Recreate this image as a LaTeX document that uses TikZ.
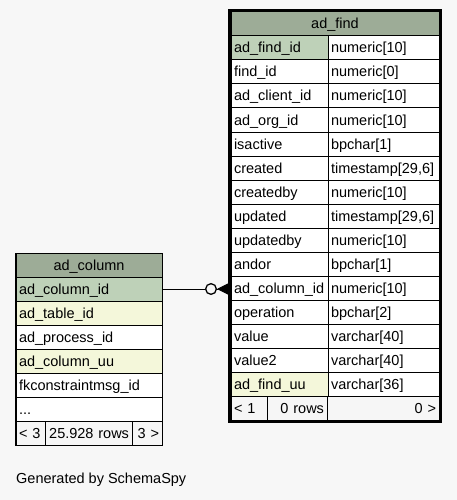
\documentclass[tikz,border=0pt]{standalone}
\usepackage{fontspec}
\setmainfont{Liberation Sans}
\definecolor{sspage}{RGB}{247,247,247}
\definecolor{sshead}{RGB}{157,172,151}
\definecolor{sspk}{RGB}{190,209,184}
\definecolor{ssidx}{RGB}{244,247,218}
\definecolor{ssfoot}{RGB}{246,246,246}
\usetikzlibrary{arrows.meta,positioning}
\newcommand{\ssfont}{\fontsize{14.5}{17}\selectfont}

\begin{document}
\begin{tikzpicture}[x=1pt,y=-1pt,
    cell/.style={draw,line width=1pt,fill=white,inner xsep=3pt,inner ysep=0pt,
                 minimum height=24pt,text height=13pt,text depth=3pt,font=\ssfont},
    namecell/.style={cell,text width=91pt,align=left},
    typecell/.style={cell,text width=105pt,align=left},
    colcell/.style={cell,text width=140pt,align=left},
    headcell/.style={cell,fill=sshead,align=center},
    footcell/.style={cell,fill=ssfoot},
    fkline/.style={line width=1pt,
        -{Circle[open,fill=sspage,length=12pt,width=12pt,line width=1.3pt,sep=0pt]Triangle[reversed,length=11pt,width=11pt]}}]
  %% page
  \fill[sspage] (0,0) rectangle (457,500);
  \useasboundingbox (0,0) rectangle (457,500);

  %% Table: ad_find
  \node[headcell,minimum width=208pt] (fhead) at (335,24) {ad\_find};
  \node[namecell,fill=sspk] (fadfindid) at (279.5,48) {ad\_find\_id};
  \node[typecell] (tadfindid) at (383.5,48) {numeric[10]};
  \node[namecell] (ffindid) at (279.5,72) {find\_id};
  \node[typecell] (tfindid) at (383.5,72) {numeric[0]};
  \node[namecell] (fclient) at (279.5,96) {ad\_client\_id};
  \node[typecell] (tclient) at (383.5,96) {numeric[10]};
  \node[namecell] (forg) at (279.5,120) {ad\_org\_id};
  \node[typecell] (torg) at (383.5,120) {numeric[10]};
  \node[namecell] (factive) at (279.5,144) {isactive};
  \node[typecell] (tactive) at (383.5,144) {bpchar[1]};
  \node[namecell] (fcreated) at (279.5,168) {created};
  \node[typecell] (tcreated) at (383.5,168) {timestamp[29,6]};
  \node[namecell] (fcreatedby) at (279.5,192) {createdby};
  \node[typecell] (tcreatedby) at (383.5,192) {numeric[10]};
  \node[namecell] (fupdated) at (279.5,216) {updated};
  \node[typecell] (tupdated) at (383.5,216) {timestamp[29,6]};
  \node[namecell] (fupdatedby) at (279.5,240) {updatedby};
  \node[typecell] (tupdatedby) at (383.5,240) {numeric[10]};
  \node[namecell] (fandor) at (279.5,264) {andor};
  \node[typecell] (tandor) at (383.5,264) {bpchar[1]};
  \node[namecell] (fcolumn) at (279.5,288) {ad\_column\_id};
  \node[typecell] (tcolumn) at (383.5,288) {numeric[10]};
  \node[namecell] (foperation) at (279.5,312) {operation};
  \node[typecell] (toperation) at (383.5,312) {bpchar[2]};
  \node[namecell] (fvalue) at (279.5,336) {value};
  \node[typecell] (tvalue) at (383.5,336) {varchar[40]};
  \node[namecell] (fvalue2) at (279.5,360) {value2};
  \node[typecell] (tvalue2) at (383.5,360) {varchar[40]};
  \node[namecell,fill=ssidx] (ffinduu) at (279.5,384) {ad\_find\_uu};
  \node[typecell] (tfinduu) at (383.5,384) {varchar[36]};
  \node[footcell,text width=30pt,align=left] (fparents) at (249,408) {< 1};
  \node[footcell,text width=54pt,align=right] (frows) at (297,408) {0 rows};
  \node[footcell,text width=106pt,align=right] (fchildren) at (383,408) {0 >};
  \node[draw,line width=3pt,inner sep=0pt,minimum width=211pt,minimum height=411pt]
        (findframe) at (335,216) {};

  %% Table: ad_column
  \node[headcell,minimum width=146pt] (chead) at (89,265) {ad\_column};
  \node[colcell,fill=sspk] (ccolumn) at (89,289) {ad\_column\_id};
  \node[colcell,fill=ssidx] (ctable) at (89,313) {ad\_table\_id};
  \node[colcell] (cprocess) at (89,337) {ad\_process\_id};
  \node[colcell,fill=ssidx] (ccolumnuu) at (89,361) {ad\_column\_uu};
  \node[colcell] (cfkmsg) at (89,385) {fkconstraintmsg\_id};
  \node[colcell] (cmore) at (89,409) {...};
  \node[footcell,text width=23pt,align=left] (cparents) at (30.5,433) {< 3};
  \node[footcell,text width=81pt,align=right] (crows) at (88.5,433) {25.928 rows};
  \node[footcell,text width=24pt,align=right] (cchildren) at (147,433) {3 >};
  \node[draw,line width=1pt,inner sep=0pt,minimum width=147pt,minimum height=192pt]
        (columnframe) at (89,349) {};

  %% Relation
  \draw[fkline,shorten >=2.5pt] (ccolumn.east) -- (ccolumn.east -| fcolumn.west);

  %% Caption
  \node[font=\ssfont,anchor=west,inner sep=0pt] (caption) at (16,480) {Generated by SchemaSpy};
\end{tikzpicture}
\end{document}
